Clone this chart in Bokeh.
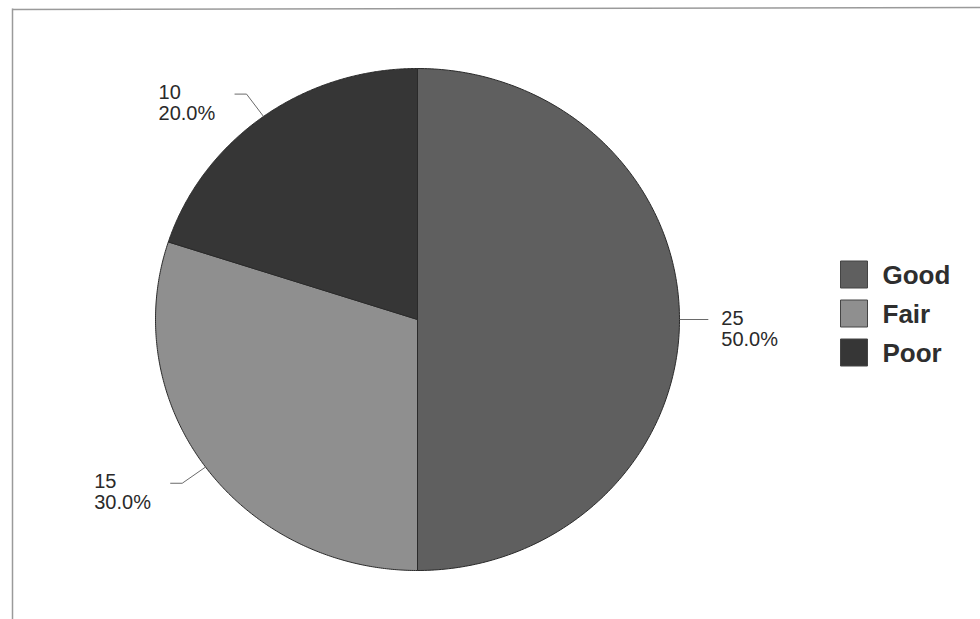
import numpy as np
from bokeh.plotting import figure
from bokeh.models import Range1d
from bokeh.core.properties import value
from bokeh.embed import file_html
from bokeh.resources import INLINE

# ---- data ----
categories = ["Good", "Fair", "Poor"]
counts = [25, 15, 10]
colors = ["#5f5f5f", "#8f8f8f", "#363636"]

# ---- layout constants (pixels) ----
W, H = 980, 619
cx, cy, rx, ry = 417, 319, 262, 251
FONT = "Liberation Sans"

p = figure(width=W, height=H, x_range=Range1d(0, W), y_range=Range1d(H, 0),
           output_backend="svg", toolbar_location=None, min_border=0)
p.axis.visible = False
p.grid.visible = False
p.outline_line_color = None
p.background_fill_color = "white"
p.border_fill_color = "white"

# frame lines (left and top of the scanned box)
p.line(x=[12, 12], y=[8, H], line_color="#9a9a9a", line_width=1.5)
p.line(x=[12, W], y=[9, 7], line_color="#9a9a9a", line_width=1.5)

total = float(sum(counts))
fracs = [c / total for c in counts]

xs, ys, mids = [], [], []
start = np.pi / 2
for f in fracs:
    end = start - 2 * np.pi * f
    t = np.linspace(start, end, 240)
    xs.append([cx] + list(cx + rx * np.cos(t)))
    ys.append([cy] + list(cy - ry * np.sin(t)))
    mids.append((start + end) / 2)
    start = end

p.patches(xs, ys, fill_color=colors, line_color="#2a2a2a", line_width=1)

# leader lines and labels
lx, ly, tx, ty1, ty2, txt1, txt2 = [], [], [], [], [], [], []
for c, f, m in zip(counts, fracs, mids):
    ex, ey = cx + rx * np.cos(m), cy - ry * np.sin(m)
    bx, by = cx + 1.11 * rx * np.cos(m), cy - 1.11 * ry * np.sin(m)
    side = 1 if np.cos(m) >= 0 else -1
    tail = 12 if abs(np.sin(m)) > 0.2 else 0
    endx = bx + side * tail
    lx.append([ex, bx, endx])
    ly.append([ey, by, by])
    if side > 0:
        tx.append(endx + 13)
    else:
        tx.append(endx - 19 - 57)
    ty1.append(by - 2)
    ty2.append(by + 19)
    txt1.append(f"{c}")
    txt2.append(f"{f * 100:.1f}%")

p.multi_line(lx, ly, line_color="#6a6a6a", line_width=1)
for yy, tt in ((ty1, txt1), (ty2, txt2)):
    p.text(x=tx, y=yy, text=tt, text_font=value(FONT), text_font_size="20px",
           text_baseline="alphabetic", text_align="left", text_color="#2a2a2a")

# legend
leg_x = 840
rows = [274 + 39 * i for i in range(len(categories))]
p.rect(x=[leg_x + 13.5] * len(categories), y=rows, width=27, height=27,
       fill_color=colors, line_color="#444444", line_width=1)
p.text(x=[leg_x + 42] * len(categories), y=rows, text=categories,
       text_font=value(FONT), text_font_size="26px", text_font_style="bold",
       text_baseline="middle", text_align="left", text_color="#2e2e2e")

open("out.html", "w").write(file_html(p, INLINE))
